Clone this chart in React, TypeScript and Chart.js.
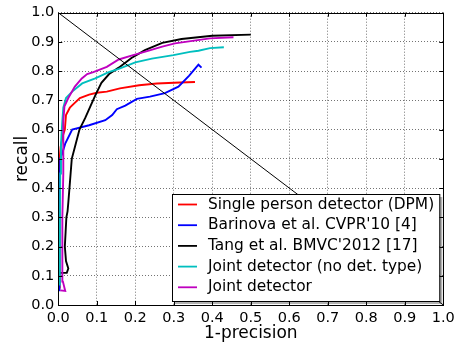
import { useEffect, useRef } from 'react';
import { Chart, registerables } from 'chart.js';
Chart.register(...registerables);

const axisTicks = [0, 0.1, 0.2, 0.3, 0.4, 0.5, 0.6, 0.7, 0.8, 0.9, 1.0];

const seriesLabels = [
  'Single person detector (DPM)',
  "Barinova et al. CVPR'10 [4]",
  "Tang et al. BMVC'2012 [17]",
  'Joint detector (no det. type)',
  'Joint detector',
];
const seriesColors = ['#ff0000', '#0000ff', '#000000', '#00bfbf', '#bf00bf'];

const dpmX = [0.002, 0.003, 0.004, 0.006, 0.012, 0.017, 0.02, 0.03, 0.04, 0.056, 0.08, 0.1, 0.126, 0.16, 0.21, 0.256, 0.316, 0.355];
const dpmY = [0.06, 0.3, 0.5, 0.54, 0.58, 0.6, 0.65, 0.675, 0.688, 0.708, 0.72, 0.726, 0.73, 0.741, 0.752, 0.758, 0.761, 0.763];

const barX = [0.002, 0.003, 0.005, 0.01, 0.018, 0.036, 0.08, 0.122, 0.14, 0.152, 0.174, 0.204, 0.238, 0.277, 0.312, 0.34, 0.364, 0.372];
const barY = [0.05, 0.3, 0.5, 0.518, 0.552, 0.6, 0.615, 0.632, 0.65, 0.67, 0.682, 0.705, 0.713, 0.725, 0.747, 0.785, 0.822, 0.812];

const tangX = [0.003, 0.022, 0.026, 0.02, 0.017, 0.019, 0.021, 0.024, 0.026, 0.029, 0.032, 0.035, 0.045, 0.055, 0.07, 0.085, 0.097, 0.112, 0.132, 0.157, 0.19, 0.225, 0.27, 0.32, 0.4, 0.5];
const tangY = [0.11, 0.11, 0.125, 0.15, 0.2, 0.25, 0.3, 0.32, 0.35, 0.4, 0.45, 0.5, 0.55, 0.6, 0.64, 0.685, 0.72, 0.76, 0.79, 0.812, 0.845, 0.872, 0.897, 0.91, 0.921, 0.925];

const jntNoX = [0.002, 0.004, 0.005, 0.007, 0.01, 0.013, 0.02, 0.036, 0.062, 0.096, 0.131, 0.157, 0.2, 0.243, 0.299, 0.342, 0.364, 0.394, 0.43];
const jntNoY = [0.07, 0.2, 0.45, 0.55, 0.62, 0.675, 0.708, 0.73, 0.758, 0.775, 0.797, 0.808, 0.83, 0.843, 0.855, 0.866, 0.87, 0.879, 0.882];

const jntX = [0.005, 0.018, 0.012, 0.01, 0.011, 0.013, 0.013, 0.013, 0.016, 0.026, 0.043, 0.061, 0.075, 0.091, 0.126, 0.157, 0.19, 0.235, 0.27, 0.303, 0.394, 0.455];
const jntY = [0.05, 0.048, 0.08, 0.15, 0.3, 0.45, 0.55, 0.63, 0.68, 0.708, 0.747, 0.775, 0.79, 0.797, 0.815, 0.84, 0.853, 0.87, 0.884, 0.895, 0.912, 0.916];

const diagX = [0, 1];
const diagY = [1, 0];

const zip = (xs: number[], ys: number[]) => xs.map((x, i) => ({ x, y: ys[i] }));

const FONT = 'DejaVu Sans';

const framePlugin = {
  id: 'frame',
  afterDatasetsDraw(chart: any) {
    const { ctx, chartArea: a, scales } = chart;
    ctx.save();
    ctx.strokeStyle = '#000';
    ctx.lineWidth = 1;
    ctx.beginPath();
    const L = 4;
    for (const v of axisTicks) {
      const px = Math.round(scales.x.getPixelForValue(v)) + 0.5;
      ctx.moveTo(px, a.bottom);
      ctx.lineTo(px, a.bottom - L);
      ctx.moveTo(px, a.top);
      ctx.lineTo(px, a.top + L);
      const py = Math.round(scales.y.getPixelForValue(v)) + 0.5;
      ctx.moveTo(a.left, py);
      ctx.lineTo(a.left + L, py);
      ctx.moveTo(a.right, py);
      ctx.lineTo(a.right - L, py);
    }
    ctx.stroke();
    ctx.strokeRect(Math.round(a.left) + 0.5, Math.round(a.top) + 0.5, Math.round(a.right - a.left), Math.round(a.bottom - a.top));
    ctx.restore();
  },
};

const legendPlugin = {
  id: 'boxLegend',
  afterDraw(chart: any) {
    const { ctx, chartArea: a } = chart;
    const right = a.right - 4;
    const bottom = a.bottom - 4;
    const left = 172;
    const top = 194;
    ctx.save();
    ctx.fillStyle = 'rgba(0,0,0,0.3)';
    ctx.fillRect(left + 3, top + 3, right - left, bottom - top);
    ctx.fillStyle = '#fff';
    ctx.fillRect(left, top, right - left, bottom - top);
    ctx.strokeStyle = '#000';
    ctx.lineWidth = 1;
    ctx.strokeRect(left + 0.5, top + 0.5, right - left, bottom - top);
    ctx.font = `15.4px "${FONT}"`;
    ctx.textBaseline = 'middle';
    ctx.fillStyle = '#000';
    seriesLabels.forEach((lab, i) => {
      const y = top + 10.5 + i * 20.7;
      ctx.strokeStyle = seriesColors[i];
      ctx.lineWidth = 1.8;
      ctx.beginPath();
      ctx.moveTo(left + 6, y);
      ctx.lineTo(left + 25, y);
      ctx.stroke();
      ctx.fillText(lab, left + 36, y);
    });
    ctx.restore();
  },
};

export default function App() {
  const ref = useRef<HTMLCanvasElement>(null);
  useEffect(() => {
    const series = [
      zip(dpmX, dpmY),
      zip(barX, barY),
      zip(tangX, tangY),
      zip(jntNoX, jntNoY),
      zip(jntX, jntY),
    ];
    const datasets: any[] = series.map((d, i) => ({
      label: seriesLabels[i],
      data: d,
      borderColor: seriesColors[i],
      backgroundColor: seriesColors[i],
      borderWidth: 1.9,
      pointRadius: 0,
      tension: 0,
      fill: false,
      order: 5 - i,
    }));
    datasets.push({
      label: '',
      data: zip(diagX, diagY),
      borderColor: '#000',
      borderWidth: 1,
      pointRadius: 0,
      fill: false,
      order: -1,
    });
    const tickFont = { family: FONT, size: 14.5 };
    const gridOpts = { color: 'rgba(0,0,0,0.55)', lineWidth: 1, drawTicks: false };
    const chart = new Chart(ref.current!, {
      type: 'line',
      data: { datasets },
      options: {
        animation: false,
        responsive: false,
        events: [],
        layout: { padding: { left: 0, right: 17.7, top: 6, bottom: 0 } },
        plugins: { legend: { display: false }, tooltip: { enabled: false } },
        scales: {
          x: {
            type: 'linear',
            min: 0,
            max: 1,
            afterFit: (s: any) => { s.height = 40; },
            afterBuildTicks: (s: any) => { s.ticks = axisTicks.map((v) => ({ value: v })); },
            ticks: { color: '#000', font: tickFont, padding: 5, maxRotation: 0, autoSkip: false, callback: (v: any) => Number(v).toFixed(1) },
            grid: gridOpts,
            border: { display: false, dash: [1, 2] },
            title: { display: true, text: '1-precision', color: '#000', font: { family: FONT, size: 17 }, padding: { top: 0, bottom: 1 } },
          },
          y: {
            type: 'linear',
            min: 0,
            max: 1,
            afterFit: (s: any) => { s.width = 58.3; },
            afterBuildTicks: (s: any) => { s.ticks = axisTicks.map((v) => ({ value: v })); },
            ticks: { color: '#000', font: tickFont, padding: 4, autoSkip: false, callback: (v: any) => Number(v).toFixed(1) },
            grid: gridOpts,
            border: { display: false, dash: [1, 2] },
            title: { display: true, text: 'recall', color: '#000', font: { family: FONT, size: 17 }, padding: { top: 12, bottom: 0 } },
          },
        },
      },
      plugins: [framePlugin, legendPlugin],
    } as any);
    return () => chart.destroy();
  }, []);
  return (
    <div style={{ position: 'fixed', left: 0, top: 0, width: 461, height: 345, background: '#fff' }}>
      <canvas ref={ref} width={461} height={345} style={{ width: 461, height: 345, display: 'block' }} />
    </div>
  );
}
